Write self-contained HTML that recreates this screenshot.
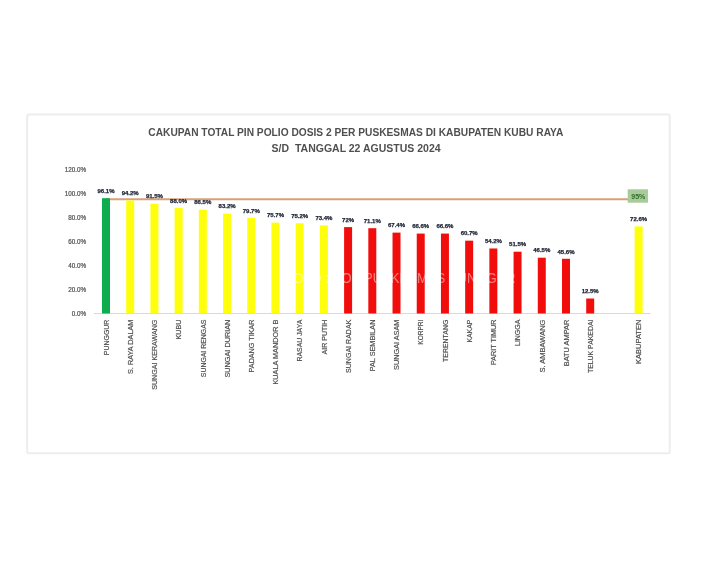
<!DOCTYPE html>
<html lang="id"><head><meta charset="utf-8"><title>Cakupan Total PIN Polio Dosis 2</title>
<style>html,body{margin:0;padding:0;background:#fff}body{width:714px;height:561px;overflow:hidden}</style></head>
<body>
<svg width="714" height="561" viewBox="0 0 714 561" style="display:block">
<defs><filter id="soft" x="-5%" y="-5%" width="110%" height="110%"><feGaussianBlur stdDeviation="0.45"/></filter></defs>
<rect width="714" height="561" fill="#fff"/>
<g filter="url(#soft)">
<rect x="27.2" y="114.5" width="642.5" height="338.7" rx="1.5" fill="#fff" stroke="#ededed" stroke-width="2"/>
<g font-family="'Liberation Sans', Arial, sans-serif" font-weight="bold" fill="#505050" font-size="10.8">
<text x="148.3" y="136.2" textLength="415" lengthAdjust="spacingAndGlyphs">CAKUPAN TOTAL PIN POLIO DOSIS 2 PER PUSKESMAS DI KABUPATEN KUBU RAYA</text>
<text x="271.6" y="152.3" textLength="169" lengthAdjust="spacingAndGlyphs" xml:space="preserve">S/D  TANGGAL 22 AGUSTUS 2024</text>
</g>
<g font-family="'Liberation Sans', Arial, sans-serif" fill="#505050" stroke="#505050" stroke-width="0.2" font-size="6.3" text-anchor="end">
<text x="86" y="315.9">0.0%</text>
<text x="86" y="291.9">20.0%</text>
<text x="86" y="267.9">40.0%</text>
<text x="86" y="243.9">60.0%</text>
<text x="86" y="219.9">80.0%</text>
<text x="86" y="195.9">100.0%</text>
<text x="86" y="171.9">120.0%</text>
</g>
<line x1="94" y1="313.5" x2="650.5" y2="313.5" stroke="#d9d9d9" stroke-width="1"/>
<line x1="106" y1="199.25" x2="638.6" y2="199.25" stroke="#d8a07a" stroke-width="1.9"/>
<rect x="102.00" y="198.18" width="8" height="115.32" fill="#0aad50"/>
<rect x="126.21" y="200.46" width="8" height="113.04" fill="#ffff0a"/>
<rect x="150.42" y="203.70" width="8" height="109.80" fill="#ffff0a"/>
<rect x="174.63" y="207.90" width="8" height="105.60" fill="#ffff0a"/>
<rect x="198.84" y="209.70" width="8" height="103.80" fill="#ffff0a"/>
<rect x="223.05" y="213.66" width="8" height="99.84" fill="#ffff0a"/>
<rect x="247.26" y="217.86" width="8" height="95.64" fill="#ffff0a"/>
<rect x="271.47" y="222.66" width="8" height="90.84" fill="#ffff0a"/>
<rect x="295.68" y="223.26" width="8" height="90.24" fill="#ffff0a"/>
<rect x="319.89" y="225.42" width="8" height="88.08" fill="#ffff0a"/>
<rect x="344.10" y="227.10" width="8" height="86.40" fill="#f21010"/>
<rect x="368.31" y="228.18" width="8" height="85.32" fill="#f21010"/>
<rect x="392.52" y="232.62" width="8" height="80.88" fill="#f21010"/>
<rect x="416.73" y="233.58" width="8" height="79.92" fill="#f21010"/>
<rect x="440.94" y="233.58" width="8" height="79.92" fill="#f21010"/>
<rect x="465.15" y="240.66" width="8" height="72.84" fill="#f21010"/>
<rect x="489.36" y="248.46" width="8" height="65.04" fill="#f21010"/>
<rect x="513.57" y="251.70" width="8" height="61.80" fill="#f21010"/>
<rect x="537.78" y="257.70" width="8" height="55.80" fill="#f21010"/>
<rect x="561.99" y="258.78" width="8" height="54.72" fill="#f21010"/>
<rect x="586.20" y="298.50" width="8" height="15.00" fill="#f21010"/>
<rect x="634.62" y="226.38" width="8" height="87.12" fill="#ffff0a"/>
<text x="285.4" y="283.4" font-family="'Liberation Sans', Arial, sans-serif" font-size="15" fill="#fff" fill-opacity="0.45" textLength="230" lengthAdjust="spacingAndGlyphs">FOTO : DOK PUSKESMAS PUNGGUR</text>
<rect x="627.7" y="189.3" width="20.3" height="13.4" fill="#a9cb98"/>
<text x="638.3" y="198.8" font-family="'Liberation Sans', Arial, sans-serif" font-size="7" font-weight="bold" fill="#2f6d2f" text-anchor="middle">95%</text>
<g font-family="'Liberation Sans', Arial, sans-serif" font-weight="bold" fill="#1c2233" stroke="#1c2233" stroke-width="0.25" font-size="6" text-anchor="middle">
<text x="106.0" y="192.9">96.1%</text>
<text x="130.2" y="195.2">94.2%</text>
<text x="154.4" y="198.4">91.5%</text>
<text x="178.6" y="202.7">88.0%</text>
<text x="202.8" y="204.4">86.5%</text>
<text x="227.1" y="208.4">83.2%</text>
<text x="251.3" y="212.6">79.7%</text>
<text x="275.5" y="217.4">75.7%</text>
<text x="299.7" y="218.0">75.2%</text>
<text x="323.9" y="220.2">73.4%</text>
<text x="348.1" y="221.9">72%</text>
<text x="372.3" y="222.9">71.1%</text>
<text x="396.5" y="227.4">67.4%</text>
<text x="420.7" y="228.3">66.6%</text>
<text x="444.9" y="228.3">66.6%</text>
<text x="469.2" y="235.4">60.7%</text>
<text x="493.4" y="243.2">54.2%</text>
<text x="517.6" y="246.4">51.5%</text>
<text x="541.8" y="252.4">46.5%</text>
<text x="566.0" y="253.5">45.6%</text>
<text x="590.2" y="293.2">12.5%</text>
<text x="638.6" y="221.1">72.6%</text>
</g>
<g font-family="'Liberation Sans', Arial, sans-serif" fill="#505050" stroke="#505050" stroke-width="0.2" font-size="7.8">
<text transform="translate(108.7,355.2) rotate(-90)" textLength="35.6" lengthAdjust="spacingAndGlyphs">PUNGGUR</text>
<text transform="translate(132.9,374.0) rotate(-90)" textLength="54.4" lengthAdjust="spacingAndGlyphs">S. RAYA DALAM</text>
<text transform="translate(157.1,389.8) rotate(-90)" textLength="70.2" lengthAdjust="spacingAndGlyphs">SUNGAI KERAWANG</text>
<text transform="translate(181.3,339.4) rotate(-90)" textLength="19.8" lengthAdjust="spacingAndGlyphs">KUBU</text>
<text transform="translate(205.5,377.2) rotate(-90)" textLength="57.6" lengthAdjust="spacingAndGlyphs">SUNGAI RENGAS</text>
<text transform="translate(229.8,377.6) rotate(-90)" textLength="58.0" lengthAdjust="spacingAndGlyphs">SUNGAI DURIAN</text>
<text transform="translate(254.0,372.4) rotate(-90)" textLength="52.8" lengthAdjust="spacingAndGlyphs">PADANG TIKAR</text>
<text transform="translate(278.2,384.6) rotate(-90)" textLength="65.0" lengthAdjust="spacingAndGlyphs">KUALA MANDOR B</text>
<text transform="translate(302.4,361.5) rotate(-90)" textLength="41.9" lengthAdjust="spacingAndGlyphs">RASAU JAYA</text>
<text transform="translate(326.6,354.5) rotate(-90)" textLength="34.9" lengthAdjust="spacingAndGlyphs">AIR PUTIH</text>
<text transform="translate(350.8,373.0) rotate(-90)" textLength="53.4" lengthAdjust="spacingAndGlyphs">SUNGAI RADAK</text>
<text transform="translate(375.0,371.3) rotate(-90)" textLength="51.7" lengthAdjust="spacingAndGlyphs">PAL SEMBILAN</text>
<text transform="translate(399.2,369.9) rotate(-90)" textLength="50.3" lengthAdjust="spacingAndGlyphs">SUNGAI ASAM</text>
<text transform="translate(423.4,344.7) rotate(-90)" textLength="25.1" lengthAdjust="spacingAndGlyphs">KORPRI</text>
<text transform="translate(447.6,361.9) rotate(-90)" textLength="42.3" lengthAdjust="spacingAndGlyphs">TERENTANG</text>
<text transform="translate(471.9,342.6) rotate(-90)" textLength="23.0" lengthAdjust="spacingAndGlyphs">KAKAP</text>
<text transform="translate(496.1,365.0) rotate(-90)" textLength="45.4" lengthAdjust="spacingAndGlyphs">PARIT TIMUR</text>
<text transform="translate(520.3,346.0) rotate(-90)" textLength="26.4" lengthAdjust="spacingAndGlyphs">LINGGA</text>
<text transform="translate(544.5,372.4) rotate(-90)" textLength="52.8" lengthAdjust="spacingAndGlyphs">S. AMBAWANG</text>
<text transform="translate(568.7,366.3) rotate(-90)" textLength="46.7" lengthAdjust="spacingAndGlyphs">BATU AMPAR</text>
<text transform="translate(592.9,373.0) rotate(-90)" textLength="53.4" lengthAdjust="spacingAndGlyphs">TELUK PAKEDAI</text>
<text transform="translate(641.3,364.0) rotate(-90)" textLength="44.4" lengthAdjust="spacingAndGlyphs">KABUPATEN</text>
</g>
</g>
</svg>
</body></html>
